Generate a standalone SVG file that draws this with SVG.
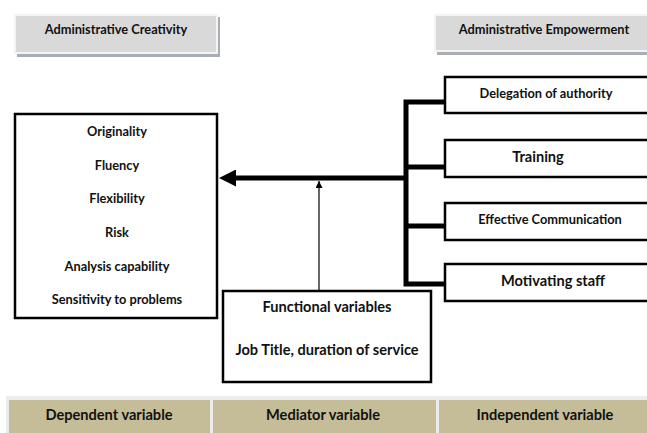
<svg xmlns="http://www.w3.org/2000/svg" width="647" height="433" viewBox="0 0 647 433">
  <style>
    text { font-family: Lato, "Liberation Sans", sans-serif; font-weight: bold; fill: #111; text-anchor: middle; }
    .hdr { fill: #d9d9d9; stroke: #f4f4f4; stroke-width: 2; }
    .hdr-shadow { fill: #a9adb6; }
    .box { fill: #fff; stroke: #000; stroke-width: 2.5; }
    .cell { fill: #c4bd97; }
    .sm { font-size: 12.8px; }
    .md { font-size: 14.6px; }
    .bus { stroke: #000; stroke-width: 5; fill: none; }
  </style>
  <defs>
    <marker id="bigHead" viewBox="0 0 10 10" refX="0" refY="5" markerWidth="18" markerHeight="17" markerUnits="userSpaceOnUse" orient="auto">
      <path d="M0,0 L10,5 L0,10 Z" fill="#000"/>
    </marker>
    <marker id="smallHead" viewBox="0 0 10 10" refX="10" refY="5" markerWidth="7" markerHeight="7" markerUnits="userSpaceOnUse" orient="auto">
      <path d="M0,0 L10,5 L0,10 Z" fill="#000"/>
    </marker>
  </defs>
  <rect width="647" height="433" fill="#fff"/>

  <!-- headers -->
  <g id="hdr-creativity">
    <rect class="hdr-shadow" x="17" y="17" width="203" height="40"/>
    <rect class="hdr" x="15" y="15" width="202" height="38"/>
    <text class="sm" x="116" y="34">Administrative Creativity</text>
  </g>
  <g id="hdr-empowerment">
    <rect class="hdr-shadow" x="437" y="17" width="215" height="38"/>
    <rect class="hdr" x="435" y="15" width="215" height="36"/>
    <text class="sm" x="544" y="34">Administrative Empowerment</text>
  </g>

  <!-- connectors -->
  <g id="connectors">
    <path class="bus" d="M444,102 H406 V284 H444 M406,167 H444 M406,226 H444"/>
    <line class="bus" x1="406" y1="178" x2="236" y2="178" marker-end="url(#bigHead)"/>
    <line x1="319" y1="291" x2="319" y2="181" stroke="#000" stroke-width="1.2" marker-end="url(#smallHead)"/>
  </g>

  <!-- dependent variable -->
  <g id="creativity">
    <rect class="box" x="15" y="114" width="202" height="204"/>
    <text class="sm" x="117" y="136">Originality</text>
    <text class="sm" x="117" y="170">Fluency</text>
    <text class="sm" x="117" y="203">Flexibility</text>
    <text class="sm" x="117" y="237">Risk</text>
    <text class="sm" x="117" y="271">Analysis capability</text>
    <text class="sm" x="117" y="304">Sensitivity to problems</text>
  </g>

  <!-- independent variables -->
  <g id="delegation">
    <rect class="box" x="445" y="77" width="206" height="36"/>
    <text class="sm" x="546" y="98">Delegation of authority</text>
  </g>
  <g id="training">
    <rect class="box" x="445" y="140" width="206" height="37"/>
    <text class="md" x="538" y="162">Training</text>
  </g>
  <g id="communication">
    <rect class="box" x="445" y="203" width="206" height="37"/>
    <text class="sm" x="550" y="224">Effective Communication</text>
  </g>
  <g id="motivating">
    <rect class="box" x="445" y="264" width="206" height="37"/>
    <text class="md" x="553" y="286">Motivating staff</text>
  </g>

  <!-- mediator -->
  <g id="mediator">
    <rect class="box" x="223" y="291" width="208" height="91"/>
    <text class="md" x="327" y="312">Functional variables</text>
    <text class="md" x="327" y="355">Job Title, duration of service</text>
  </g>

  <!-- legend strip -->
  <g id="legend">
    <rect x="6" y="396" width="641" height="37" fill="#ececec"/>
    <rect class="cell" x="9" y="400" width="201" height="33"/>
    <rect class="cell" x="213" y="400" width="223" height="33"/>
    <rect class="cell" x="439" y="400" width="208" height="33"/>
    <text class="md" x="109" y="420">Dependent variable</text>
    <text class="md" x="323" y="420">Mediator variable</text>
    <text class="md" x="545" y="420">Independent variable</text>
  </g>
</svg>
